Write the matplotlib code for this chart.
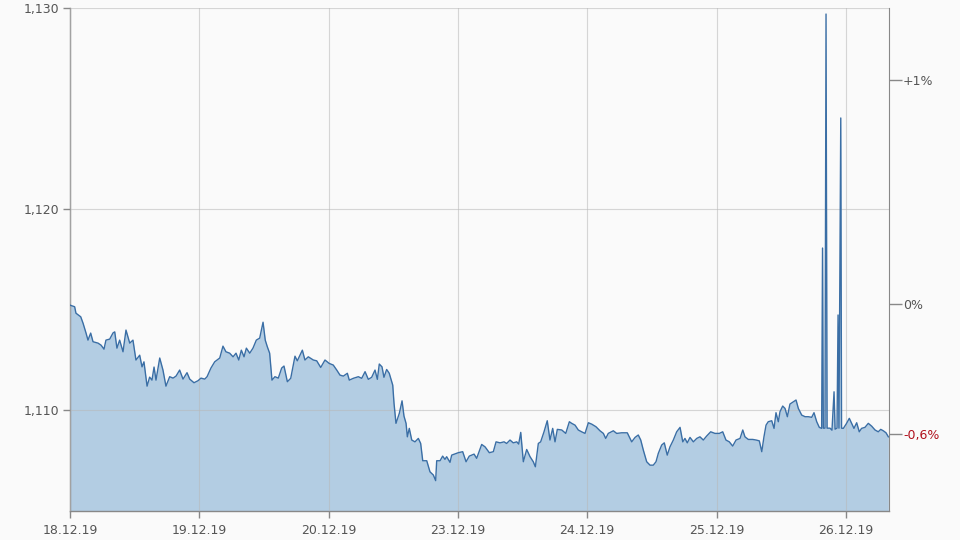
import matplotlib
matplotlib.use("Agg")
import matplotlib.pyplot as plt

# Dati (giorni di borsa, 0 = 18.12.19)
giorni = [
    0.000, 0.036, 0.046, 0.083, 0.101, 0.124, 0.139, 0.160, 0.178, 0.217,
    0.240, 0.263, 0.278, 0.307, 0.333, 0.346, 0.363, 0.384, 0.410, 0.433,
    0.462, 0.487, 0.510, 0.539, 0.557, 0.572, 0.596, 0.616, 0.634, 0.650,
    0.665, 0.694, 0.719, 0.742, 0.771, 0.797, 0.820, 0.848, 0.874, 0.905,
    0.926, 0.959, 0.990, 1.013, 1.042, 1.060, 1.090, 1.119, 1.158, 1.183,
    1.206, 1.235, 1.261, 1.284, 1.305, 1.325, 1.346, 1.364, 1.390, 1.415,
    1.441, 1.467, 1.493, 1.510, 1.526, 1.544, 1.562, 1.585, 1.611, 1.637,
    1.655, 1.681, 1.707, 1.740, 1.758, 1.797, 1.817, 1.843, 1.882, 1.908,
    1.939, 1.972, 2.005, 2.036, 2.063, 2.088, 2.114, 2.145, 2.160, 2.191,
    2.230, 2.256, 2.282, 2.307, 2.333, 2.359, 2.377, 2.392, 2.413, 2.428,
    2.449, 2.469, 2.496, 2.506, 2.521, 2.547, 2.568, 2.583, 2.599, 2.609,
    2.624, 2.643, 2.668, 2.694, 2.712, 2.728, 2.759, 2.784, 2.810, 2.828,
    2.836, 2.862, 2.882, 2.900, 2.913, 2.939, 2.952, 3.003, 3.037, 3.063,
    3.088, 3.125, 3.145, 3.184, 3.210, 3.243, 3.274, 3.295, 3.326, 3.357,
    3.377, 3.403, 3.428, 3.455, 3.470, 3.486, 3.506, 3.532, 3.558, 3.583,
    3.599, 3.622, 3.640, 3.666, 3.691, 3.712, 3.733, 3.751, 3.769, 3.803,
    3.834, 3.862, 3.880, 3.906, 3.931, 3.957, 3.983, 4.009, 4.035, 4.068,
    4.099, 4.125, 4.143, 4.163, 4.202, 4.228, 4.267, 4.310, 4.344, 4.370,
    4.395, 4.414, 4.434, 4.460, 4.486, 4.511, 4.532, 4.550, 4.576, 4.596,
    4.619, 4.640, 4.666, 4.692, 4.718, 4.739, 4.756, 4.774, 4.795, 4.821,
    4.847, 4.872, 4.898, 4.924, 4.955, 4.988, 5.022, 5.048, 5.073, 5.099,
    5.125, 5.151, 5.182, 5.203, 5.220, 5.246, 5.280, 5.306, 5.331, 5.350,
    5.367, 5.383, 5.400, 5.427, 5.445, 5.460, 5.478, 5.491, 5.512, 5.530,
    5.548, 5.568, 5.594, 5.615, 5.633, 5.659, 5.685, 5.710, 5.736, 5.754,
    5.775, 5.795, 5.813, 5.820, 5.826, 5.839, 5.847, 5.855, 5.878, 5.893,
    5.909, 5.917, 5.932, 5.940, 5.947, 5.961, 5.967, 5.981, 6.006, 6.027,
    6.045, 6.063, 6.084, 6.104, 6.122, 6.148, 6.174, 6.200, 6.226, 6.251,
    6.270, 6.290, 6.311, 6.329,
]

prezzi = [
    1.11522, 1.11514, 1.11482, 1.11464, 1.11432, 1.11383, 1.11348, 1.11383, 1.11340, 1.11333,
    1.11323, 1.11303, 1.11348, 1.11353, 1.11384, 1.11389, 1.11308, 1.11348, 1.11290, 1.11398,
    1.11333, 1.11348, 1.11249, 1.11273, 1.11215, 1.11240, 1.11119, 1.11164, 1.11149, 1.11214,
    1.11149, 1.11259, 1.11199, 1.11119, 1.11166, 1.11159, 1.11169, 1.11199, 1.11154, 1.11186,
    1.11154, 1.11136, 1.11146, 1.11159, 1.11154, 1.11166, 1.11209, 1.11240, 1.11259, 1.11318,
    1.11290, 1.11283, 1.11265, 1.11283, 1.11249, 1.11298, 1.11265, 1.11308, 1.11283, 1.11308,
    1.11348, 1.11358, 1.11437, 1.11348, 1.11315, 1.11283, 1.11149, 1.11166, 1.11159, 1.11209,
    1.11219, 1.11141, 1.11158, 1.11268, 1.11245, 1.11298, 1.11249, 1.11265, 1.11249, 1.11245,
    1.11212, 1.11249, 1.11232, 1.11224, 1.11199, 1.11174, 1.11169, 1.11183, 1.11149, 1.11158,
    1.11166, 1.11158, 1.11191, 1.11153, 1.11163, 1.11199, 1.11153, 1.11229, 1.11215, 1.11163,
    1.11202, 1.11183, 1.11124, 1.11033, 1.10934, 1.10984, 1.11046, 1.10970, 1.10934, 1.10867,
    1.10909, 1.10851, 1.10842, 1.10859, 1.10834, 1.10748, 1.10748, 1.10693, 1.10677, 1.10649,
    1.10748, 1.10748, 1.10771, 1.10755, 1.10768, 1.10740, 1.10776, 1.10788, 1.10793, 1.10743,
    1.10771, 1.10781, 1.10760, 1.10829, 1.10817, 1.10788, 1.10793, 1.10842, 1.10837, 1.10842,
    1.10834, 1.10851, 1.10837, 1.10842, 1.10831, 1.10889, 1.10743, 1.10804, 1.10768, 1.10743,
    1.10718, 1.10834, 1.10842, 1.10892, 1.10947, 1.10851, 1.10909, 1.10842, 1.10904, 1.10901,
    1.10884, 1.10942, 1.10934, 1.10925, 1.10901, 1.10892, 1.10884, 1.10937, 1.10930, 1.10917,
    1.10897, 1.10884, 1.10859, 1.10884, 1.10897, 1.10884, 1.10887, 1.10887, 1.10842, 1.10864,
    1.10876, 1.10851, 1.10801, 1.10743, 1.10726, 1.10726, 1.10743, 1.10785, 1.10826, 1.10837,
    1.10776, 1.10817, 1.10851, 1.10892, 1.10914, 1.10842, 1.10859, 1.10837, 1.10864, 1.10842,
    1.10859, 1.10867, 1.10851, 1.10871, 1.10892, 1.10884, 1.10884, 1.10892, 1.10851, 1.10842,
    1.10821, 1.10851, 1.10859, 1.10901, 1.10867, 1.10854, 1.10854, 1.10851, 1.10847, 1.10793,
    1.10867, 1.10925, 1.10942, 1.10947, 1.10909, 1.10987, 1.10942, 1.10992, 1.11020, 1.11008,
    1.10967, 1.11030, 1.11041, 1.11050, 1.11008, 1.10975, 1.10967, 1.10967, 1.10964, 1.10987,
    1.10942, 1.10914, 1.10909, 1.11806, 1.10910, 1.10910, 1.12970, 1.10910, 1.10910, 1.10900,
    1.11091, 1.10905, 1.10910, 1.11473, 1.10910, 1.12453, 1.10910, 1.10909, 1.10934, 1.10959,
    1.10934, 1.10909, 1.10937, 1.10892, 1.10909, 1.10914, 1.10934, 1.10920, 1.10901, 1.10892,
    1.10904, 1.10897, 1.10887, 1.10867,
]

etichette_x = ["18.12.19", "19.12.19", "20.12.19", "23.12.19", "24.12.19", "25.12.19", "26.12.19"]
tick_y = [1.110, 1.120, 1.130]
etichette_y = ["1,110", "1,120", "1,130"]

# prezzo di riferimento (0%) e ultimo prezzo
prezzo_rif = 1.11527
prezzo_ultimo = 1.10881
etichette_dx = ["+1%", "0%", "-0,6%"]

sfondo = "#fafafa"
grigio = "#888888"
testo = "#555555"

fig = plt.figure(figsize=(9.6, 5.4), dpi=100, facecolor=sfondo)
ax = fig.add_axes([70 / 960, 29 / 540, 819 / 960, 503 / 540])
ax.set_facecolor(sfondo)

# area e linea
ax.fill_between(giorni, prezzi, 1.1049, color="#b3cde3", linewidth=0, zorder=1)
ax.plot(giorni, prezzi, color="#3a6ea5", linewidth=1.0, zorder=3)

ax.set_xlim(0, 6.334)
ax.set_ylim(1.10498, 1.130)

ax.set_xticks(range(len(etichette_x)))
ax.set_xticklabels(etichette_x)
ax.set_yticks(tick_y)
ax.set_yticklabels(etichette_y)

ax.grid(True, color="#b8b8b8", alpha=0.55, linewidth=0.8, zorder=2)
ax.set_axisbelow(False)

for lato in ["top", "right"]:
    ax.spines[lato].set_visible(False)
for lato in ["left", "bottom"]:
    ax.spines[lato].set_color(grigio)
    ax.spines[lato].set_linewidth(1.0)

ax.tick_params(axis="both", colors=grigio, labelcolor=testo, labelsize=9,
               length=5, width=1.0, direction="out", pad=3)
ax.tick_params(axis="x", pad=4)

# asse destro con le percentuali
ax2 = ax.twinx()
ax2.set_ylim(ax.get_ylim())
ax2.set_yticks([prezzo_rif * 1.01, prezzo_rif, prezzo_ultimo])
ax2.set_yticklabels(etichette_dx)
for lato in ["top", "left", "bottom"]:
    ax2.spines[lato].set_visible(False)
ax2.spines["right"].set_color(grigio)
ax2.tick_params(axis="y", colors=grigio, labelcolor=testo, labelsize=9,
                length=9, width=1.0, direction="out", pad=1)
ax2.get_yticklabels()[2].set_color("#b0101c")

fig.savefig("out.png", dpi=100, facecolor=sfondo)
